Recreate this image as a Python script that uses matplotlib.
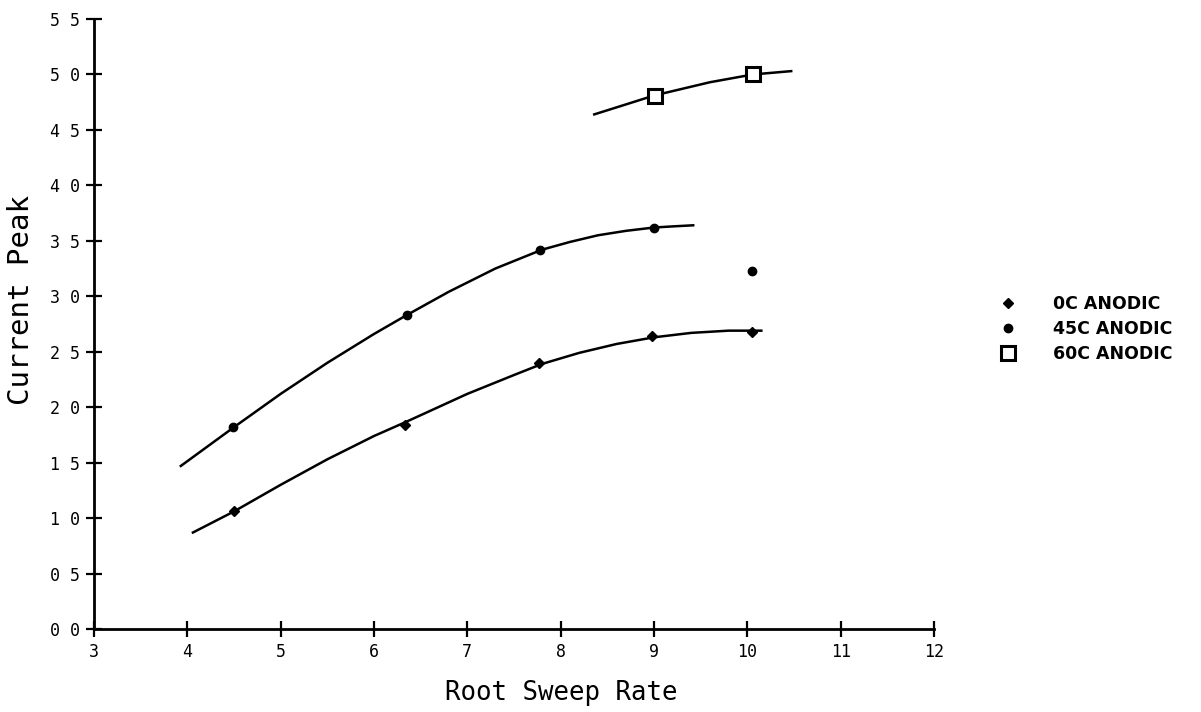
import numpy as np
import matplotlib
matplotlib.use("Agg")
from matplotlib import pyplot as plt

# measured points (root sweep rate, current peak)
x_0c = [4.5, 6.33, 7.77, 8.98, 10.05]
y_0c = [1.06, 1.84, 2.40, 2.64, 2.68]
x_45c = [4.49, 6.35, 7.78, 9.0, 10.05]
y_45c = [1.82, 2.83, 3.42, 3.62, 3.23]
x_60c = [9.01, 10.06]
y_60c = [4.81, 5.0]

# hand drawn fit curves
curve_0c_x = [4.06, 4.5, 5.0, 5.5, 6.0, 6.35, 7.0, 7.5, 7.8, 8.2, 8.6, 9.0, 9.4, 9.8, 10.15]
curve_0c_y = [0.87, 1.06, 1.30, 1.53, 1.74, 1.87, 2.12, 2.29, 2.39, 2.49, 2.57, 2.63, 2.67, 2.69, 2.69]
curve_45c_x = [3.93, 4.5, 5.0, 5.5, 6.0, 6.35, 6.8, 7.3, 7.8, 8.1, 8.4, 8.7, 9.0, 9.2, 9.42]
curve_45c_y = [1.47, 1.82, 2.12, 2.40, 2.66, 2.83, 3.04, 3.25, 3.42, 3.49, 3.55, 3.59, 3.62, 3.63, 3.64]
curve_60c_x = [8.36, 8.7, 9.0, 9.3, 9.6, 10.06, 10.47]
curve_60c_y = [4.64, 4.73, 4.81, 4.87, 4.93, 5.0, 5.03]

xticks = [3, 4, 5, 6, 7, 8, 9, 10, 11, 12]
yticks = [0.0, 0.5, 1.0, 1.5, 2.0, 2.5, 3.0, 3.5, 4.0, 4.5, 5.0, 5.5]
ytick_labels = ["0 0", "0 5", "1 0", "1 5", "2 0", "2 5", "3 0", "3 5",
                "4 0", "4 5", "5 0", "5 5"]

mono = "DejaVu Sans Mono"
W, H = 1201, 712

fig = plt.figure(figsize=(12.01, 7.12), dpi=100)
ax = fig.add_axes([94 / W, 83 / H, (934 - 94) / W, (629 - 19) / H])

ax.plot(curve_0c_x, curve_0c_y, color="black", lw=1.8)
ax.plot(curve_45c_x, curve_45c_y, color="black", lw=1.8)
ax.plot(curve_60c_x, curve_60c_y, color="black", lw=1.8)

h0, = ax.plot(x_0c, y_0c, "D", color="black", ms=5, ls="none", label="0C ANODIC")
h45, = ax.plot(x_45c, y_45c, "o", color="black", ms=6, ls="none", label="45C ANODIC")
h60, = ax.plot(x_60c, y_60c, "s", mfc="white", mec="black", mew=2.2, ms=10,
               ls="none", label="60C ANODIC")

ax.set_xlim(3, 12)
ax.set_ylim(0, 5.5)
ax.set_xticks(xticks)
ax.set_yticks(yticks)
ax.set_yticklabels(ytick_labels)
ax.tick_params(direction="inout", length=12, width=1.6, labelsize=12, pad=4)
for lab in ax.get_xticklabels() + ax.get_yticklabels():
    lab.set_family(mono)

for s in ["top", "right"]:
    ax.spines[s].set_visible(False)
for s in ["left", "bottom"]:
    ax.spines[s].set_linewidth(2)

# axis titles placed by hand like on the original sheet
fig.text(561 / W, 1 - 693 / H, "Root Sweep Rate", family=mono, fontsize=18.5,
         ha="center", va="center")
fig.text(21 / W, 1 - 300 / H, "Current Peak", family=mono, fontsize=21,
         rotation=90, ha="center", va="center")

fig.legend(handles=[h0, h45, h60], loc="upper left",
           bbox_to_anchor=(991 / W, 1 - 286 / H), frameon=False,
           prop={"family": "DejaVu Sans", "weight": "bold", "size": 12.5},
           borderpad=0, handletextpad=2.05, labelspacing=0.42, handlelength=1.0)

fig.savefig("out.png", dpi=100)
